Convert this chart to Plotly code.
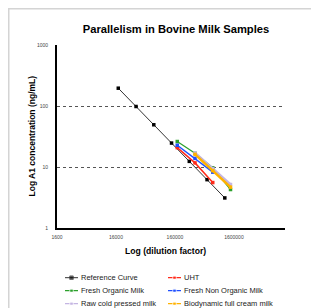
import plotly.graph_objects as go

# ---- data ----
ref_dilution = [17500, 35000, 70000, 140000, 280000, 560000, 1120000]
ref_conc = [200, 100, 50, 25, 12.5, 6.25, 3.125]

sample_dilution = [175000, 350000, 700000, 1400000]
uht = [21, 11.8, 5.6, None]
fresh_organic = [26.5, 17, 9.8, 4.3]
fresh_non_organic = [23, 14, 8.3, None]
raw_cold_pressed = [None, 17.2, 9.5, 5.2]
biodynamic = [None, 16.3, 8.8, 4.7]

series_names = ["Reference Curve", "UHT", "Fresh Organic Milk", "Fresh Non Organic Milk",
                "Raw cold pressed milk", "Biodynamic full cream milk"]

x_tickvals = [1600, 16000, 160000, 1600000]
x_ticktext = ["1600", "16000", "160000", "1600000"]
y_tickvals = [1, 10, 100, 1000]
y_ticktext = ["1", "10", "100", "1000"]

FONT = "Liberation Sans, Arial, sans-serif"

colors = ["#333333", "#ff2a1a", "#2ca02c", "#1f4fff", "#c4b5e2", "#ffb200"]
marker_colors = ["#000000", "#ff2a1a", "#2ca02c", "#1f4fff", "#c4b5e2", "#ffb200"]
widths = [1, 1.5, 1.2, 1.5, 2.5, 2.5]

fig = go.Figure()

fig.add_trace(go.Scatter(
    x=ref_dilution, y=ref_conc, name=series_names[0], mode="lines+markers",
    line=dict(color=colors[0], width=widths[0]),
    marker=dict(symbol="square", size=3.5, color=marker_colors[0])))

sample_values = [uht, fresh_organic, fresh_non_organic, raw_cold_pressed, biodynamic]
for i, vals in enumerate(sample_values, start=1):
    fig.add_trace(go.Scatter(
        x=sample_dilution, y=vals, name=series_names[i], mode="lines+markers",
        line=dict(color=colors[i], width=widths[i]),
        marker=dict(symbol="square", size=3.5, color=marker_colors[i]),
        connectgaps=False))

# ---- legend (two columns, drawn on an auxiliary hidden axis) ----
annotations = []
for i, name in enumerate(series_names):
    col, row = i % 2, i // 2
    x0 = 65 + col * 103
    fig.add_trace(go.Scatter(
        x=[x0, x0 + 6.5, x0 + 13], y=[row, row, row], mode="lines+markers",
        xaxis="x2", yaxis="y2", showlegend=False, hoverinfo="skip",
        line=dict(color=colors[i], width=1 if i == 0 else 1.2),
        marker=dict(symbol="square", size=[0, 3.5, 0], color=marker_colors[i])))
    annotations.append(dict(
        x=x0 + 14, y=row, xref="x2", yref="y2", text=name, showarrow=False,
        xanchor="left", yanchor="middle",
        font=dict(size=7.5, family=FONT, color="#222222")))

# axis titles
annotations.append(dict(
    x=0.478, y=0.241, xref="paper", yref="paper", text="<b>Log (dilution factor)</b>",
    showarrow=False, xanchor="center", yanchor="middle",
    font=dict(size=8.6, family=FONT, color="#000000")))
annotations.append(dict(
    x=-0.1096, y=0.6624, xref="paper", yref="paper", text="<b>Log A1 concentration (ng/mL)</b>",
    showarrow=False, xanchor="center", yanchor="middle", textangle=-90,
    font=dict(size=8.5, family=FONT, color="#000000")))

fig.update_layout(
    width=319, height=308,
    margin=dict(l=49, r=42, t=37, b=0, autoexpand=False),
    paper_bgcolor="white", plot_bgcolor="white",
    font=dict(family=FONT, color="#000000"),
    title=dict(text="<b>Parallelism in Bovine Milk Samples</b>",
               font=dict(size=11.2, family=FONT, color="#000000"),
               x=168 / 319, xanchor="center", xref="container",
               y=1 - 21 / 308, yanchor="middle", yref="container"),
    showlegend=False,
    annotations=annotations,
    shapes=[dict(type="rect", xref="paper", yref="paper",
                 x0=-0.2116, x1=1.6, y0=-0.5, y1=1.1338,
                 line=dict(color="#d4d4d4", width=1.5), fillcolor="rgba(0,0,0,0)",
                 layer="below")],
    xaxis2=dict(domain=[0, 1], range=[57, 285], anchor="y2", visible=False,
                fixedrange=True, automargin=False),
    yaxis2=dict(domain=[0, 0.2], range=[2.946, -1.223], anchor="x2", visible=False,
                fixedrange=True, automargin=False),
    xaxis=dict(
        type="log", range=[3.204, 7.07], anchor="y", automargin=False,
        tickvals=x_tickvals, ticktext=x_ticktext,
        tickfont=dict(size=5, color="#444444"),
        ticks="outside", ticklen=3, tickcolor="rgba(0,0,0,0)",
        showgrid=False, zeroline=False,
        showline=True, linecolor="#000000", linewidth=2,
    ),
    yaxis=dict(
        type="log", range=[0, 3.012], domain=[0.3247, 1], anchor="x", automargin=False,
        tickvals=y_tickvals, ticktext=y_ticktext,
        tickfont=dict(size=5, color="#444444"),
        ticks="outside", ticklen=6, tickcolor="rgba(0,0,0,0)",
        showgrid=True, gridcolor="#555555", gridwidth=1, griddash="dot",
        zeroline=False,
        showline=True, linecolor="#000000", linewidth=2,
    ),
)

fig.write_html("out.html")
